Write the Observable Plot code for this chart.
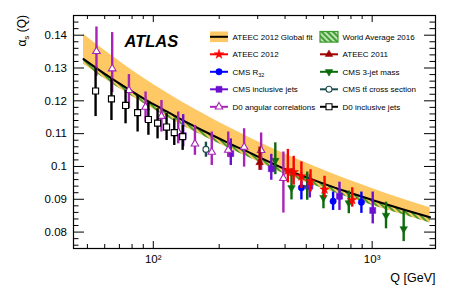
<!DOCTYPE html>
<html>
<head>
<meta charset="utf-8">
<script src="https://cdn.jsdelivr.net/npm/d3@7"></script>
<script src="https://cdn.jsdelivr.net/npm/@observablehq/plot@0.6"></script>
<style>
  body { margin: 0; background: #fff; }
  #chart svg { display: block; }
</style>
</head>
<body>
<div id="chart"></div>
<script>
// ---------- Data ----------
// ATEEC 2012 global fit band and World Average 2016 band
const fitQ          = [48, 60, 75, 92, 110, 136, 170, 220, 280, 400, 550, 750, 1000, 1400, 1840];
const fitCentral    = [0.1327, 0.1282, 0.1240, 0.1204, 0.1175, 0.1141, 0.1108, 0.1072, 0.1040, 0.0992, 0.0957, 0.0925, 0.0898, 0.0868, 0.0845];
const fitUpper      = [0.1403, 0.1353, 0.1306, 0.1266, 0.1233, 0.1196, 0.1160, 0.1120, 0.1085, 0.1038, 0.0999, 0.0963, 0.0933, 0.0899, 0.0874];
const worldAvgLower = [0.1312, 0.1267, 0.1225, 0.1189, 0.1159, 0.1125, 0.1092, 0.1056, 0.1024, 0.0976, 0.0941, 0.0909, 0.0882, 0.0852, 0.0828];

// ATEEC 2011
const ateec2011Q  = [306];
const ateec2011V  = [0.1012];
const ateec2011Lo = [0.0988];
const ateec2011Hi = [0.1059];

// ATEEC 2012
const ateec2012Q  = [412, 438, 475, 523, 606, 811];
const ateec2012V  = [0.0988, 0.0983, 0.0970, 0.0955, 0.0930, 0.0898];
const ateec2012Lo = [0.0950, 0.0943, 0.0933, 0.0922, 0.0904, 0.0876];
const ateec2012Hi = [0.1052, 0.1031, 0.1014, 0.0990, 0.0970, 0.0935];

// CMS R32
const cmsR32Q  = [475, 663, 893];
const cmsR32V  = [0.0935, 0.0894, 0.0891];
const cmsR32Lo = [0.0898, 0.0866, 0.0857];
const cmsR32Hi = [0.0955, 0.0922, 0.0922];

// CMS 3-jet mass
const cms3jQ  = [361, 428, 505, 599, 782, 1157, 1393];
const cms3jV  = [0.1018, 0.0935, 0.0936, 0.0905, 0.0889, 0.0851, 0.0810];
const cms3jLo = [0.0975, 0.0898, 0.0897, 0.0871, 0.0856, 0.0810, 0.0771];
const cms3jHi = [0.1072, 0.0993, 0.0983, 0.0935, 0.0925, 0.0891, 0.0863];

// CMS inclusive jets
const cmsIncQ  = [137, 226, 346, 519, 709, 1006];
const cmsIncV  = [0.1094, 0.1039, 0.0993, 0.0940, 0.0909, 0.0866];
const cmsIncLo = [0.1060, 0.1003, 0.0958, 0.0904, 0.0866, 0.0825];
const cmsIncHi = [0.1158, 0.1084, 0.1037, 0.0975, 0.0952, 0.0922];

// CMS ttbar cross section
const cmsTtQ  = [174];
const cmsTtV  = [0.1052];
const cmsTtLo = [0.1028];
const cmsTtHi = [0.1074];

// D0 angular correlations
const d0AngQ  = [55, 64.9, 77.4, 92.2, 109, 130, 155, 185, 220, 260, 311, 393];
const d0AngV  = [0.1351, 0.1298, 0.1232, 0.1181, 0.1153, 0.1105, 0.1069, 0.1044, 0.1050, 0.1059, 0.1049, 0.0964];
const d0AngLo = [0.1275, 0.1225, 0.1176, 0.1135, 0.1105, 0.1069, 0.1034, 0.1003, 0.1028, 0.0998, 0.0988, 0.0858];
const d0AngHi = [0.1425, 0.1408, 0.1280, 0.1227, 0.1201, 0.1166, 0.1125, 0.1105, 0.1105, 0.1115, 0.1102, 0.1044];

// D0 inclusive jets
const d0IncQ  = [54.5, 64.4, 74.7, 84.8, 95, 104.6, 115, 124.7, 136.2];
const d0IncV  = [0.1230, 0.1206, 0.1186, 0.1164, 0.1143, 0.1132, 0.1120, 0.1103, 0.1091];
const d0IncLo = [0.1152, 0.1140, 0.1130, 0.1105, 0.1095, 0.1084, 0.1079, 0.1064, 0.1049];
const d0IncHi = [0.1300, 0.1267, 0.1232, 0.1216, 0.1196, 0.1176, 0.1161, 0.1145, 0.1125];

// Axis ticks
const xMajor = [100, 1000];
const xMajorLabels = ["10²", "10³"];
const xMinor = [50, 60, 70, 80, 90, 200, 300, 400, 500, 600, 700, 800, 900];
const yMajor = [0.08, 0.09, 0.10, 0.11, 0.12, 0.13, 0.14];
const yMinor = d3.range(38, 74).filter(i => i % 5 !== 0).map(i => i * 2 / 1000);

// ---------- Build tables ----------
const rows = (Q, v, lo, hi) => Q.map((q, i) => ({Q: q, v: v[i], lo: lo[i], hi: hi[i]}));
const fit = fitQ.map((q, i) => ({Q: q, c: fitCentral[i], up: fitUpper[i], wa: worldAvgLower[i]}));

const triDown = {
  draw(context, size) {
    const y = -Math.sqrt(size / (Math.sqrt(3) * 3));
    context.moveTo(0, -y * 2);
    context.lineTo(-Math.sqrt(3) * y, y);
    context.lineTo(Math.sqrt(3) * y, y);
    context.closePath();
  }
};

const C = {
  orange: "#fec865", hatch: "#3c9a2e", red: "#ff0000", darkred: "#a00000", blue: "#0000ff",
  green: "#0b6b0b", purple: "#6c10d0", teal: "#1d4d4d", magenta: "#a824b8", black: "#000000"
};

const series = [
  {label: "CMS 3-jet mass", data: rows(cms3jQ, cms3jV, cms3jLo, cms3jHi), color: C.green, symbol: triDown, fill: C.green, r: 2.8},
  {label: "CMS R32", data: rows(cmsR32Q, cmsR32V, cmsR32Lo, cmsR32Hi), color: C.blue, symbol: "circle", fill: C.blue, r: 3.2},
  {label: "CMS inclusive jets", data: rows(cmsIncQ, cmsIncV, cmsIncLo, cmsIncHi), color: C.purple, symbol: "square", fill: C.purple, r: 3.4},
  {label: "CMS tt cross section", data: rows(cmsTtQ, cmsTtV, cmsTtLo, cmsTtHi), color: C.teal, symbol: "circle", fill: "white", r: 3.0},
  {label: "D0 angular correlations", data: rows(d0AngQ, d0AngV, d0AngLo, d0AngHi), color: C.magenta, symbol: "triangle", fill: "white", r: 2.8},
  {label: "D0 inclusive jets", data: rows(d0IncQ, d0IncV, d0IncLo, d0IncHi), color: C.black, symbol: "square", fill: "white", r: 3.4},
  {label: "ATEEC 2011", data: rows(ateec2011Q, ateec2011V, ateec2011Lo, ateec2011Hi), color: C.darkred, symbol: "triangle", fill: C.darkred, r: 2.8},
  {label: "ATEEC 2012", data: rows(ateec2012Q, ateec2012V, ateec2012Lo, ateec2012Hi), color: C.red, symbol: "star", fill: C.red, r: 3.0}
];

const W = 458, H = 296;
const mL = 73, mR = 23, mT = 15, mB = 48;
const pW = W - mL - mR, pH = H - mT - mB;
const FONT = "'Liberation Sans', Arial, Helvetica, sans-serif";

const marks = [
  Plot.areaY(fit, {x: "Q", y1: "wa", y2: "up", fill: C.orange, curve: "monotone-x"}),
  Plot.areaY(fit, {x: "Q", y1: "wa", y2: "c", fill: "url(#waHatch)", curve: "monotone-x"}),
  Plot.lineY(fit, {x: "Q", y: "c", stroke: "black", strokeWidth: 2, curve: "monotone-x"})
];
for (const s of series) {
  marks.push(Plot.ruleX(s.data, {x: "Q", y1: "lo", y2: "hi", stroke: s.color, strokeWidth: 2.4}));
  marks.push(Plot.dot(s.data, {x: "Q", y: "v", symbol: s.symbol, r: s.r, fill: s.fill, stroke: s.color,
    strokeWidth: s.fill === "white" ? 1.1 : 0.5}));
}
// ticks (inward, all four sides)
marks.push(
  Plot.tickY(yMajor, {y: d => d, insetRight: pW - 11, stroke: "black"}),
  Plot.tickY(yMajor, {y: d => d, insetLeft: pW - 11, stroke: "black"}),
  Plot.tickY(yMinor, {y: d => d, insetRight: pW - 5.5, stroke: "black"}),
  Plot.tickY(yMinor, {y: d => d, insetLeft: pW - 5.5, stroke: "black"}),
  Plot.tickX(xMajor, {x: d => d, insetTop: pH - 7, stroke: "black"}),
  Plot.tickX(xMajor, {x: d => d, insetBottom: pH - 7, stroke: "black"}),
  Plot.tickX(xMinor, {x: d => d, insetTop: pH - 4, stroke: "black"}),
  Plot.tickX(xMinor, {x: d => d, insetBottom: pH - 4, stroke: "black"}),
  Plot.frame({stroke: "black", strokeWidth: 1.2}),
  Plot.text(yMajor, {y: d => d, frameAnchor: "left", dx: -6.5, textAnchor: "end", text: d => d3.format(".2~f")(d), fontSize: 11.5}),
  Plot.text(xMajor, {x: d => d, frameAnchor: "bottom", dy: 14, text: (d, i) => xMajorLabels[i], fontSize: 11.5}),
  Plot.text(["Q [GeV]"], {frameAnchor: "bottom-right", dy: 33, textAnchor: "end", fontSize: 12.5}),
  Plot.text(["ATLAS"], {frameAnchor: "top-left", dx: 51, dy: 20, textAnchor: "start", fontSize: 16.5, fontWeight: "bold", fontStyle: "italic"})
);

const chart = Plot.plot({
  width: W, height: H,
  marginLeft: mL, marginRight: mR, marginTop: mT, marginBottom: mB,
  style: {fontFamily: FONT, background: "white", color: "black"},
  x: {type: "log", domain: [43.2, 1947], axis: null},
  y: {domain: [0.075, 0.146], axis: null},
  marks
});
document.getElementById("chart").append(chart);

// ---------- SVG extras: hatch pattern, y label, legend ----------
const svg = d3.select(chart);
const defs = svg.insert("defs", ":first-child");
const pat = defs.append("pattern").attr("id", "waHatch").attr("patternUnits", "userSpaceOnUse")
  .attr("width", 4).attr("height", 4).attr("patternTransform", "rotate(-45)");
pat.append("rect").attr("x", 0).attr("y", 0).attr("width", 1.9).attr("height", 4).attr("fill", C.hatch);

const yl = svg.append("text").attr("transform", `translate(26,${mT}) rotate(-90)`)
  .attr("text-anchor", "end").attr("font-size", 12).attr("font-family", FONT);
yl.append("tspan").text("α");
yl.append("tspan").attr("font-size", 8).attr("dy", 3).text("s");
yl.append("tspan").attr("dy", -3).text(" (Q)");

const leg = svg.append("g").attr("font-family", FONT).attr("font-size", 8).attr("text-anchor", "start");
const legendEntries = [
  {col: 0, row: 0, kind: "band", label: ["ATEEC 2012 Global fit"]},
  {col: 1, row: 0, kind: "hatch", label: ["World Average 2016"]},
  {col: 0, row: 1, s: series[7], label: ["ATEEC 2012"]},
  {col: 1, row: 1, s: series[6], label: ["ATEEC 2011"]},
  {col: 0, row: 2, s: series[1], label: ["CMS R", "32"]},
  {col: 1, row: 2, s: series[0], label: ["CMS 3-jet mass"]},
  {col: 0, row: 3, s: series[2], label: ["CMS inclusive jets"]},
  {col: 1, row: 3, s: series[3], label: ["CMS t", "t̄", " cross section"]},
  {col: 0, row: 4, s: series[4], label: ["D0 angular correlations"]},
  {col: 1, row: 4, s: series[5], label: ["D0 inclusive jets"]}
];
const colX = [210, 320], rowY0 = 36.8, rowDy = 17.5, swW = 18;
for (const e of legendEntries) {
  const x0 = colX[e.col], yc = rowY0 + e.row * rowDy;
  const g = leg.append("g");
  if (e.kind === "band") {
    g.append("rect").attr("x", x0).attr("y", yc - 5.3).attr("width", swW).attr("height", 10.6).attr("fill", C.orange);
    g.append("line").attr("x1", x0).attr("x2", x0 + swW).attr("y1", yc).attr("y2", yc).attr("stroke", "black").attr("stroke-width", 2);
  } else if (e.kind === "hatch") {
    g.append("rect").attr("x", x0).attr("y", yc - 5.3).attr("width", swW).attr("height", 10.6).attr("fill", "#bfe3b5");
    g.append("rect").attr("x", x0).attr("y", yc - 5.3).attr("width", swW).attr("height", 10.6).attr("fill", "url(#waHatch)")
      .attr("stroke", C.hatch).attr("stroke-width", 1.2);
  } else {
    const s = e.s;
    g.append("line").attr("x1", x0).attr("x2", x0 + swW).attr("y1", yc).attr("y2", yc).attr("stroke", s.color).attr("stroke-width", 2);
    const type = typeof s.symbol === "string"
      ? {circle: d3.symbolCircle, square: d3.symbolSquare, triangle: d3.symbolTriangle, star: d3.symbolStar}[s.symbol]
      : s.symbol;
    g.append("path").attr("d", d3.symbol(type, Math.PI * s.r * s.r)())
      .attr("transform", `translate(${x0 + swW / 2},${yc})`)
      .attr("fill", s.fill).attr("stroke", s.color).attr("stroke-width", s.fill === "white" ? 1.1 : 0.5);
  }
  const t = g.append("text").attr("x", x0 + swW + 4.5).attr("y", yc).attr("dy", "0.35em").attr("text-anchor", "start");
  if (e.label.length === 2) {
    t.append("tspan").text(e.label[0]);
    t.append("tspan").attr("font-size", 5.5).attr("dy", 2.5).text(e.label[1]);
  } else if (e.label.length === 3) {
    t.append("tspan").text(e.label[0] + e.label[1] + e.label[2]);
  } else {
    t.text(e.label[0]);
  }
}
</script>
</body>
</html>
